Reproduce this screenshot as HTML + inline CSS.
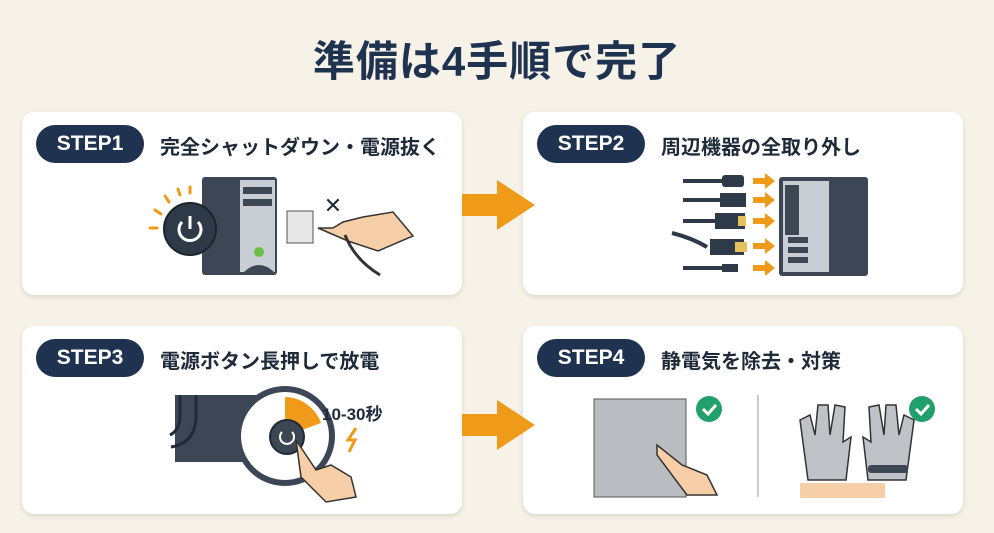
<!DOCTYPE html>
<html><head><meta charset="utf-8"><style>
body{margin:0;width:994px;height:533px;background:#f6f2e7;font-family:"Liberation Sans","Noto Sans CJK JP",sans-serif;position:relative;overflow:hidden}
.t{position:absolute;left:0;width:994px;top:28px;text-align:center;font-size:42px;font-weight:bold;color:#1f3350;letter-spacing:1px}
.c{position:absolute;background:#fff;border-radius:12px;box-shadow:0 2px 5px rgba(0,0,0,.12)}
.p{position:absolute;left:14px;top:13px;width:108px;height:38px;border-radius:19px;background:#1f3350;color:#fff;font-weight:bold;font-size:21px;line-height:38px;text-align:center}
.l{position:absolute;left:138px;top:19px;font-size:20px;font-weight:bold;color:#1f2a38;white-space:nowrap}
svg{position:absolute;left:0;top:0}
</style></head><body>
<div class="t">準備は4手順で完了</div>
<div class="c" style="left:22px;top:112px;width:440px;height:183px"><div class="p">STEP1</div><div class="l">完全シャットダウン・電源抜く</div></div>
<div class="c" style="left:523px;top:112px;width:440px;height:183px"><div class="p">STEP2</div><div class="l">周辺機器の全取り外し</div></div>
<div class="c" style="left:22px;top:326px;width:440px;height:188px"><div class="p">STEP3</div><div class="l">電源ボタン長押しで放電</div></div>
<div class="c" style="left:523px;top:326px;width:440px;height:188px"><div class="p">STEP4</div><div class="l">静電気を除去・対策</div></div>
<svg width="994" height="533">
<g fill="#f09a1a"><polygon points="462,194 497,194 497,180 535,205 497,230 497,216 462,216"/><polygon points="462,414 497,414 497,400 535,425 497,450 497,436 462,436"/></g>
<!-- card1 -->
<g stroke="#f09a1a" stroke-width="3" stroke-linecap="round"><line x1="150" y1="228" x2="157" y2="228"/><line x1="155" y1="210" x2="161" y2="214"/><line x1="165" y1="196" x2="169" y2="202"/><line x1="178" y1="189" x2="180" y2="195"/><line x1="190" y1="187" x2="190" y2="193"/></g>
<rect x="202" y="177" width="75" height="98" rx="3" fill="#3d4654"/>
<rect x="240" y="180" width="35" height="92" fill="#c9ced4"/>
<rect x="243" y="187" width="29" height="7" fill="#3d4654"/><rect x="243" y="199" width="29" height="7" fill="#3d4654"/>
<circle cx="259" cy="252" r="5" fill="#6cc04a"/>
<path d="M244 272 q15-14 30 0z" fill="#3d4654"/>
<circle cx="190" cy="229" r="26" fill="#2f3a48" stroke="#1c232d" stroke-width="2"/>
<path d="M182 222 a11 11 0 1 0 16 0" fill="none" stroke="#fff" stroke-width="3"/><line x1="190" y1="216" x2="190" y2="229" stroke="#fff" stroke-width="3"/>
<rect x="287" y="211" width="26" height="32" fill="#e8e8e8" stroke="#555"/>
<text x="333" y="213" font-size="22" text-anchor="middle" fill="#1f2a38">✕</text>
<path d="M318 228 l15 0 l10-6 l20 -5 l30 -5 l20 24 l-35 15 l-30-10z" fill="#f6cfa8" stroke="#333" stroke-width="1.5"/>
<path d="M345 235 q10 25 35 40" fill="none" stroke="#333" stroke-width="3"/>
<!-- card2 -->
<g stroke="#2f3a48" stroke-width="4"><line x1="683" y1="181" x2="725" y2="181"/><line x1="683" y1="200" x2="722" y2="200"/><line x1="683" y1="221" x2="718" y2="221"/><path d="M672 233 q20 5 35 14" fill="none"/><line x1="683" y1="268" x2="722" y2="268"/></g>
<g fill="#2f3a48"><rect x="722" y="175" width="22" height="12" rx="3"/><rect x="720" y="193" width="26" height="14"/><rect x="715" y="213" width="30" height="16"/><rect x="710" y="239" width="34" height="16"/><rect x="722" y="264" width="16" height="8"/></g>
<rect x="738" y="216" width="8" height="10" fill="#e6c25a"/><rect x="735" y="242" width="12" height="10" fill="#e6c25a"/>
<g fill="#f09a1a"><polygon points="753,178 765,178 765,173 775,181 765,189 765,184 753,184"/><polygon points="753,197 765,197 765,192 775,200 765,208 765,203 753,203"/><polygon points="753,218 765,218 765,213 775,221 765,229 765,224 753,224"/><polygon points="753,243 765,243 765,238 775,246 765,254 765,249 753,249"/><polygon points="753,265 765,265 765,260 775,268 765,276 765,271 753,271"/></g>
<rect x="779" y="177" width="89" height="99" rx="3" fill="#3d4654"/>
<rect x="783" y="181" width="46" height="91" fill="#c9ced4"/>
<rect x="785" y="185" width="14" height="50" fill="#3d4654"/>
<g fill="#3d4654"><rect x="788" y="237" width="20" height="6"/><rect x="788" y="247" width="20" height="6"/><rect x="788" y="257" width="20" height="6"/></g>
<!-- card3 -->
<rect x="175" y="395" width="88" height="67" fill="#3d4654"/>
<path d="M180 395 v20 q0 15 -10 20 M196 395 v20 q0 28 -25 32" fill="none" stroke="#1f2a38" stroke-width="3"/>
<circle cx="285" cy="436" r="47" fill="#fff" stroke="#3d4654" stroke-width="6"/>
<path d="M285 397 A39 39 0 0 1 321 423 L285 436z" fill="#f09a1a"/>
<circle cx="287" cy="437" r="17" fill="#3d4654" stroke="#1f2a38" stroke-width="2"/>
<path d="M282 432 a7 7 0 1 0 10 0" fill="none" stroke="#fff" stroke-width="2"/>
<text x="322" y="420" font-size="17" font-weight="bold" fill="#1f2a38">10-30秒</text>
<path d="M296 440 l20 30 l15 -5 l20 12 l5 20 l-30 5 l-25 -25z" fill="#f6cfa8" stroke="#333" stroke-width="1.5"/>
<path d="M356 428 l-8 12 h7 l-6 12" fill="none" stroke="#f09a1a" stroke-width="3"/>
<!-- card4 -->
<rect x="594" y="399" width="92" height="98" fill="#b9bdc2" stroke="#555"/>
<circle cx="709" cy="409" r="13" fill="#22a06b"/><circle cx="922" cy="409" r="13" fill="#22a06b"/>
<path d="M703 409 l5 5 l8-9 M916 409 l5 5 l8-9" fill="none" stroke="#fff" stroke-width="3"/>
<line x1="758" y1="395" x2="758" y2="497" stroke="#ccc" stroke-width="2"/>
<path d="M657 445 l25 20 l25 10 l10 20 l-30 0 l-30 -40z" fill="#f6cfa8" stroke="#333" stroke-width="1.5"/>
<g fill="#bfc3c8" stroke="#333" stroke-width="1.5"><path d="M808 480 l-8 -60 l10 -5 l5 20 l3 -30 l10 0 l2 30 l5 -30 l10 2 l-2 35 l8 -5 l-5 43z"/><path d="M868 480 l-5 -43 l8 5 l-2 -35 l10 -2 l5 30 l2 -30 l10 0 l3 30 l5 -20 l10 5 l-8 60z"/></g>
<rect x="868" y="465" width="40" height="8" rx="3" fill="#3d4654"/>
<path d="M800 483 h85 v15 h-85z" fill="#f6cfa8"/>
</svg>
</body></html>
